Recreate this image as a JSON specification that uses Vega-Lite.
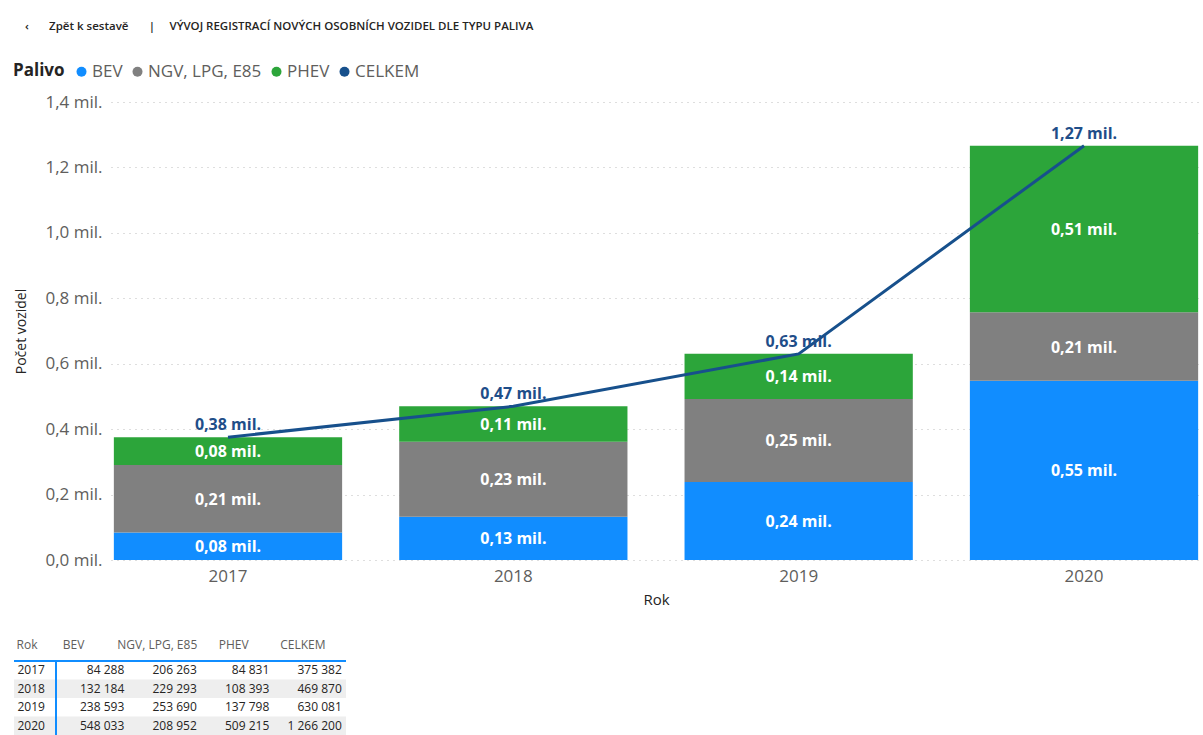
{
  "$schema": "https://vega.github.io/schema/vega-lite/v6.json",
  "background": "white",
  "padding": {"left": 13, "top": 20, "right": 0, "bottom": 0},
  "title": {
    "text": "‹\u2003\u2002  Zpět k sestavě\u2003\u2002 |\u2003 VÝVOJ REGISTRACÍ NOVÝCH OSOBNÍCH VOZIDEL DLE TYPU PALIVA",
    "anchor": "start",
    "dx": 12,
    "fontSize": 11.5,
    "fontWeight": 600,
    "color": "#252423",
    "offset": 31
  },
  "datasets": {
    "wide": [
      {"Rok": "2017", "BEV": 84288, "NGV, LPG, E85": 206263, "PHEV": 84831, "CELKEM": 375382},
      {"Rok": "2018", "BEV": 132184, "NGV, LPG, E85": 229293, "PHEV": 108393, "CELKEM": 469870},
      {"Rok": "2019", "BEV": 238593, "NGV, LPG, E85": 253690, "PHEV": 137798, "CELKEM": 630081},
      {"Rok": "2020", "BEV": 548033, "NGV, LPG, E85": 208952, "PHEV": 509215, "CELKEM": 1266200}
    ]
  },
  "spacing": 31,
  "vconcat": [
    {
      "width": 1090,
      "height": 458,
      "data": {"name": "wide"},
      "encoding": {
        "x": {
          "field": "Rok",
          "type": "ordinal",
          "title": "Rok",
          "scale": {"paddingInner": 0.2, "paddingOuter": 0.01},
          "axis": {
            "labelAngle": 0,
            "labelFontSize": 17,
            "labelColor": "#605E5C",
            "labelPadding": 8,
            "domain": false,
            "ticks": false,
            "titleFontSize": 15,
            "titleFontWeight": "normal",
            "titleColor": "#252423",
            "titlePadding": 8
          }
        }
      },
      "layer": [
        {
          "transform": [{"fold": ["BEV", "NGV, LPG, E85", "PHEV"], "as": ["Palivo", "Pocet"]}],
          "mark": {"type": "bar"},
          "encoding": {
            "y": {
              "field": "Pocet",
              "type": "quantitative",
              "stack": "zero",
              "title": "Počet vozidel",
              "scale": {"domain": [0, 1400000]},
              "axis": {
                "values": [0, 200000, 400000, 600000, 800000, 1000000, 1200000, 1400000],
                "labelExpr": "replace(format(datum.value/1000000, '.1f'), '.', ',') + ' mil.'",
                "labelFontSize": 17,
                "labelColor": "#605E5C",
                "labelPadding": 9,
                "domain": false,
                "ticks": false,
                "grid": true,
                "gridDash": [1, 5],
                "gridColor": "#BDBDBD",
                "titleFontSize": 14,
                "titleFontWeight": "normal",
                "titleColor": "#252423",
                "titlePadding": 16
              }
            },
            "order": {"field": "Palivo", "type": "nominal", "sort": "ascending"},
            "color": {
              "field": "Palivo",
              "type": "nominal",
              "scale": {
                "domain": ["BEV", "NGV, LPG, E85", "PHEV", "CELKEM"],
                "range": ["#118DFF", "#808080", "#2CA53A", "#17508C"]
              },
              "legend": {
                "orient": "none",
                "legendX": -98,
                "legendY": -39,
                "direction": "horizontal",
                "title": "Palivo",
                "titleOrient": "left",
                "titleFontSize": 17,
                "titleFontWeight": "bold",
                "titleColor": "#252423",
                "titlePadding": 8,
                "labelFontSize": 17,
                "labelColor": "#605E5C",
                "labelOffset": 2,
                "symbolType": "circle",
                "symbolSize": 100,
                "symbolStrokeWidth": 0,
                "columnPadding": 6
              }
            }
          }
        },
        {
          "transform": [
            {"fold": ["BEV", "NGV, LPG, E85", "PHEV"], "as": ["Palivo", "Pocet"]},
            {"stack": "Pocet", "groupby": ["Rok"], "sort": [{"field": "Palivo"}], "as": ["y0", "y1"]},
            {"calculate": "(datum.y0 + datum.y1) / 2", "as": "ymid"}
          ],
          "mark": {
            "type": "text",
            "color": "white",
            "fontSize": 16,
            "fontWeight": "bold",
            "baseline": "middle",
            "dy": 1,
            "text": {"expr": "replace(format(datum.Pocet/1000000, '.2f'), '.', ',') + ' mil.'"}
          },
          "encoding": {
            "y": {"field": "ymid", "type": "quantitative"}
          }
        },
        {
          "mark": {"type": "line", "strokeWidth": 3},
          "encoding": {
            "y": {"field": "CELKEM", "type": "quantitative"},
            "color": {"datum": "CELKEM"}
          }
        },
        {
          "mark": {
            "type": "text",
            "color": "#1F4E89",
            "fontSize": 16,
            "fontWeight": "bold",
            "baseline": "bottom",
            "dy": -4,
            "text": {"expr": "replace(format(datum.CELKEM/1000000, '.2f'), '.', ',') + ' mil.'"}
          },
          "encoding": {
            "y": {"field": "CELKEM", "type": "quantitative"}
          }
        }
      ]
    },
    {
      "width": 235,
      "height": 74,
      "data": {"name": "wide"},
      "resolve": {"scale": {"x": "independent"}, "axis": {"x": "independent"}},
      "layer": [
        {
          "mark": {"type": "rect"},
          "encoding": {
            "y": {
              "field": "Rok",
              "type": "ordinal",
              "scale": {"paddingInner": 0, "paddingOuter": 0},
              "axis": {
                "title": "Rok",
                "labels": true,
                "labelAlign": "left",
                "labelPadding": 94,
                "labelFontSize": 12,
                "labelColor": "#252423",
                "ticks": false,
                "domain": false,
                "titleAngle": 0,
                "titleX": -95,
                "titleY": -17,
                "titleAlign": "left",
                "titleBaseline": "middle",
                "titleFontSize": 12,
                "titleFontWeight": "normal",
                "titleColor": "#605E5C"
              }
            },
            "x": {
              "datum": "Rok",
              "type": "nominal",
              "bandPosition": 0,
              "scale": {"domain": ["Rok"], "range": [-97, 235], "paddingInner": 0, "paddingOuter": 0},
              "axis": null
            },
            "x2": {"value": "width"},
            "fill": {
              "condition": {"test": "datum.Rok == '2018' || datum.Rok == '2020'", "value": "#EEEEEE"},
              "value": "white"
            }
          }
        },
        {
          "mark": {"type": "rule", "color": "#118DFF", "strokeWidth": 1.5},
          "encoding": {
            "y": {"datum": "2017", "type": "ordinal", "bandPosition": 0},
            "x": {
              "datum": "Rok",
              "type": "nominal",
              "bandPosition": 0,
              "scale": {"domain": ["Rok"], "range": [-97, 235], "paddingInner": 0, "paddingOuter": 0},
              "axis": null
            },
            "x2": {"value": "width"}
          }
        },
        {
          "transform": [{"fold": ["BEV", "NGV, LPG, E85", "PHEV", "CELKEM"], "as": ["col", "v"]}],
          "mark": {
            "type": "text",
            "align": "right",
            "baseline": "middle",
            "fontSize": 12,
            "color": "#252423",
            "dx": 32,
            "text": {"expr": "replace(format(datum.v, ','), regexp(',', 'g'), ' ')"}
          },
          "encoding": {
            "y": {"field": "Rok", "type": "ordinal"},
            "x": {
              "field": "col",
              "type": "nominal",
              "scale": {
                "domain": ["BEV", "NGV, LPG, E85", "PHEV", "CELKEM"],
                "range": [-55, 235],
                "paddingInner": 0,
                "paddingOuter": 0
              },
              "axis": {
                "orient": "top",
                "title": null,
                "labelAlign": {"condition": {"test": "datum.value == 'NGV, LPG, E85'", "value": "right"}, "value": "left"},
                "labelOffset": {
                  "condition": [
                    {"test": "datum.value == 'NGV, LPG, E85'", "value": 32},
                    {"test": "datum.value == 'PHEV'", "value": -19}
                  ],
                  "value": -30
                },
                "labelAngle": 0,
                "labelFontSize": 12,
                "labelColor": "#605E5C",
                "labelPadding": 10,
                "ticks": false,
                "domain": false
              }
            }
          }
        },
        {
          "mark": {"type": "rule", "color": "#118DFF", "strokeWidth": 1.5},
          "encoding": {
            "x": {
              "datum": "BEV",
              "type": "nominal",
              "bandPosition": 0,
              "scale": {
                "domain": ["BEV", "NGV, LPG, E85", "PHEV", "CELKEM"],
                "range": [-55, 235],
                "paddingInner": 0,
                "paddingOuter": 0
              },
              "axis": null
            }
          }
        }
      ]
    }
  ],
  "config": {
    "font": "Open Sans",
    "view": {"stroke": null},
    "title": {"font": "Open Sans"}
  }
}
